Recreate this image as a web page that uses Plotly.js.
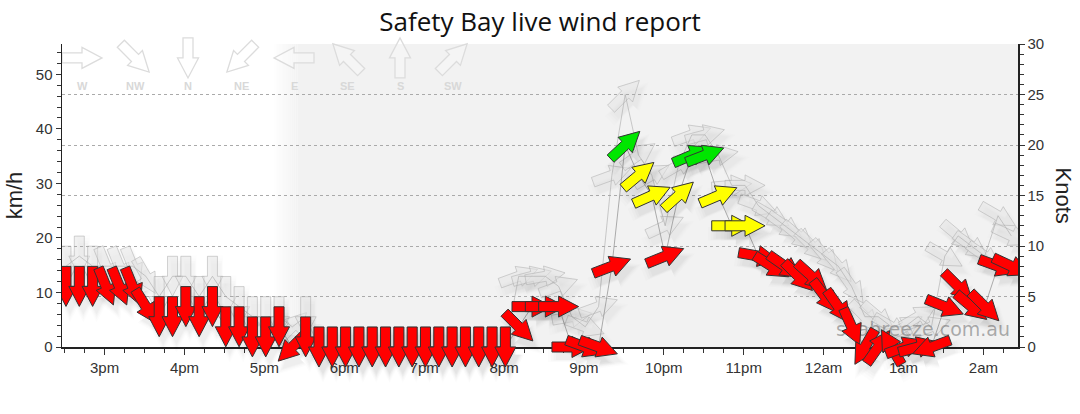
<!DOCTYPE html>
<html>
<head>
<meta charset="utf-8">
<script src="https://cdn.plot.ly/plotly-3.0.1.min.js"></script>
<style>html,body{margin:0;padding:0;background:#fff;}#chart{width:1080px;height:414px;}</style>
</head>
<body>
<div id="chart"></div>
<script>
// ---------------- DATA ----------------
const times = [
  '2024-06-15 14:31','2024-06-15 14:41','2024-06-15 14:51','2024-06-15 15:01','2024-06-15 15:11','2024-06-15 15:21',
  '2024-06-15 15:31','2024-06-15 15:41','2024-06-15 15:51','2024-06-15 16:01','2024-06-15 16:11','2024-06-15 16:21',
  '2024-06-15 16:31','2024-06-15 16:41','2024-06-15 16:51','2024-06-15 17:01','2024-06-15 17:11','2024-06-15 17:21',
  '2024-06-15 17:31','2024-06-15 17:41','2024-06-15 17:51','2024-06-15 18:01','2024-06-15 18:11','2024-06-15 18:21',
  '2024-06-15 18:31','2024-06-15 18:41','2024-06-15 18:51','2024-06-15 19:01','2024-06-15 19:11','2024-06-15 19:21',
  '2024-06-15 19:31','2024-06-15 19:41','2024-06-15 19:51','2024-06-15 20:01','2024-06-15 20:11','2024-06-15 20:21',
  '2024-06-15 20:31','2024-06-15 20:41','2024-06-15 20:51','2024-06-15 21:01','2024-06-15 21:11','2024-06-15 21:21',
  '2024-06-15 21:31','2024-06-15 21:41','2024-06-15 21:51','2024-06-15 22:01','2024-06-15 22:11','2024-06-15 22:21',
  '2024-06-15 22:31','2024-06-15 22:41','2024-06-15 22:51','2024-06-15 23:01','2024-06-15 23:11','2024-06-15 23:21',
  '2024-06-15 23:31','2024-06-15 23:41','2024-06-15 23:51','2024-06-16 00:01','2024-06-16 00:11','2024-06-16 00:21',
  '2024-06-16 00:31','2024-06-16 00:41','2024-06-16 00:51','2024-06-16 01:01','2024-06-16 01:11','2024-06-16 01:21',
  '2024-06-16 01:31','2024-06-16 01:41','2024-06-16 01:51','2024-06-16 02:01','2024-06-16 02:11','2024-06-16 02:21'
];
// wind direction (degrees, direction the wind comes FROM)
const windDir = [
  0,0,0,338,338,338,
  328,0,0,0,0,0,
  0,0,0,0,0,45,
  0,0,0,0,0,0,
  0,0,0,0,0,0,
  0,0,0,0,315,270,
  270,270,270,290,290,249,
  227,230,246,248,228,247,
  249,247,270,270,280,302,
  305,315,312,323,325,336,
  30,215,150,250,255,70,
  292,315,310,315,290,295
];
// average wind speed (knots)
const speedKn = [
  6,6,6,6,6,6,
  4,3,3,4,3,4,
  2,2,1,1,2,0,
  1,0,0,0,0,0,
  0,0,0,0,0,0,
  0,0,0,0,2,4,
  4,4,0,0,0,8,
  20,17,15,9,15,19,
  19,15,12,12,9,8,
  8,7,7,5,4,2,
  0,0,0,0,0,0,
  4,6,4,4,8,8
];
// gust speed (knots)
const gustKn = [
  8,9,8,8,8,8,
  7,5,7,7,5,7,
  5,4,3,3,3,2,
  3,0,0,0,0,0,
  0,0,0,0,0,0,
  0,0,0,0,7,7,
  7,6,3,2,4,17,
  25,19,17,12,18,21,
  21,19,16,16,14,13,
  12,11,10,9,8,6,
  3,3,2,2,3,2,
  9,11,10,9,13,11
];
// gust direction (degrees from)
const gustDir = [
  0,0,0,338,338,338,
  330,0,0,0,0,0,
  0,0,0,0,0,225,
  0,0,0,0,0,0,
  0,0,0,0,0,0,
  0,0,0,0,250,255,
  260,250,260,290,250,250,
  225,235,240,245,240,250,
  255,260,265,270,290,300,
  305,310,315,320,320,325,
  315,310,300,240,240,250,
  300,310,305,305,300,295
];
const hourTicks = ['2024-06-15 15:00','2024-06-15 16:00','2024-06-15 17:00','2024-06-15 18:00','2024-06-15 19:00',
  '2024-06-15 20:00','2024-06-15 21:00','2024-06-15 22:00','2024-06-15 23:00','2024-06-16 00:00','2024-06-16 01:00','2024-06-16 02:00'];
const hourLabels = ['3pm','4pm','5pm','6pm','7pm','8pm','9pm','10pm','11pm','12am','1am','2am'];
const compassLabels = ['W','NW','N','NE','E','SE','S','SW'];
const compassDeg = [270,315,0,45,90,135,180,225];
const nightStart = '2024-06-15 17:07';
const nightFull = '2024-06-15 17:25';
const KMH_PER_KN = 1.852;
const KN_MAX = 30;

// ---------------- DRAWING HELPERS ----------------
const ARROW = [[-20,-5],[0,-5],[0,-10.5],[20,0],[0,10.5],[0,5],[-20,5]];
function arrowPath(fromDeg, dx, dy, s) {
  s = s || 1;
  const bearing = (fromDeg + 180) % 360;
  const th = (90 - bearing) * Math.PI / 180;
  const c = Math.cos(th), sn = Math.sin(th);
  return ARROW.map((p, i) => {
    const x = p[0]*s, y = p[1]*s;
    const rx = x*c - y*sn + dx, ry = x*sn + y*c + dy;
    return (i ? 'L' : 'M') + rx.toFixed(2) + ',' + ry.toFixed(2);
  }).join('') + 'Z';
}
function speedColor(kn) {
  if (kn >= 19) return '#00e600';
  if (kn >= 11) return '#ffff00';
  return '#ff0000';
}
function arrowShape(t, kn, deg, fill, lineColor, lw, dx, dy, s, layer) {
  return {
    type: 'path', xref: 'x', yref: 'paper', xsizemode: 'pixel', ysizemode: 'pixel',
    xanchor: t, yanchor: kn / KN_MAX, path: arrowPath(deg, dx || 0, dy || 0, s),
    fillcolor: fill, line: {color: lineColor, width: lw}, layer: layer || 'above'
  };
}

const shapes = [];
// night shading with soft edge
const t0 = new Date(nightStart.replace(' ', 'T')).getTime();
const t1 = new Date(nightFull.replace(' ', 'T')).getTime();
const fmt = ms => { const d = new Date(ms); const p = n => String(n).padStart(2,'0');
  return d.getFullYear()+'-'+p(d.getMonth()+1)+'-'+p(d.getDate())+' '+p(d.getHours())+':'+p(d.getMinutes())+':'+p(d.getSeconds()); };
const NSTRIP = 12;
for (let k = 0; k < NSTRIP; k++) {
  shapes.push({type:'rect', xref:'x', yref:'paper', x0: fmt(t0 + (t1-t0)*k/NSTRIP), x1: fmt(t0 + (t1-t0)*(k+1)/NSTRIP),
    y0: 0, y1: 1, fillcolor: 'rgba(242,242,242,' + ((k+0.5)/NSTRIP).toFixed(3) + ')', line: {width: 0}, layer: 'below'});
}
shapes.push({type:'rect', xref:'x', yref:'paper', x0: nightFull, x1: '2024-06-16 03:00', y0: 0, y1: 1,
  fillcolor: '#f2f2f2', line: {width: 0}, layer: 'below'});

// compass legend arrows
compassDeg.forEach((d, i) => {
  shapes.push({type:'path', xref:'paper', yref:'paper', xsizemode:'pixel', ysizemode:'pixel',
    xanchor: (20 + 53*i) / 956, yanchor: 0.954, path: arrowPath(d, 0, 0, 1.0),
    fillcolor: 'rgba(255,255,255,0.25)', line: {color: '#dcdcdc', width: 1.3}, layer: 'below'});
});

// soft shadow: several growing, faint copies offset down-right
const BLUR = [[1.00, 0.020], [1.12, 0.018], [1.25, 0.015], [1.40, 0.012]];
times.forEach((t, i) => {
  BLUR.forEach(b => shapes.push(arrowShape(t, gustKn[i], gustDir[i], 'rgba(0,0,0,' + (b[1]*0.6).toFixed(3) + ')', 'rgba(0,0,0,0)', 0, 4, -7, b[0], 'between')));
});
times.forEach((t, i) => {
  shapes.push(arrowShape(t, gustKn[i], gustDir[i], 'rgba(228,228,228,0.5)', 'rgba(170,170,170,0.5)', 1, 0, 0, 1, 'between'));
});
times.forEach((t, i) => {
  BLUR.forEach(b => shapes.push(arrowShape(t, speedKn[i], windDir[i], 'rgba(0,0,0,' + b[1].toFixed(3) + ')', 'rgba(0,0,0,0)', 0, 4, -8, b[0])));
});
times.forEach((t, i) => {
  shapes.push(arrowShape(t, speedKn[i], windDir[i], speedColor(speedKn[i]), '#333333', 1));
});

// ---------------- TRACES ----------------
const speedKmh = speedKn.map(v => v * KMH_PER_KN);
const traces = [
  {x: times, y: gustKn, yaxis: 'y2', type: 'scatter', mode: 'lines',
   line: {color: 'rgba(170,170,170,0.6)', width: 1}, hoverinfo: 'skip', showlegend: false},
  {x: times, y: speedKmh, yaxis: 'y', type: 'scatter', mode: 'lines',
   line: {color: 'rgba(140,140,140,0.7)', width: 1}, hoverinfo: 'skip', showlegend: false},
  {x: ['2024-06-16 02:20'], y: [1.6], yaxis: 'y2', type: 'scatter', mode: 'text', text: ['seabreeze.com.au'],
   textposition: 'middle left', textfont: {family: 'DejaVu Sans', size: 19, color: 'rgba(120,120,120,0.6)'},
   hoverinfo: 'skip', showlegend: false, cliponaxis: false}
];

const annotations = compassLabels.map((lab, i) => ({
  xref: 'paper', yref: 'paper', x: (20 + 53*i) / 956, y: 0.861, text: lab, showarrow: false,
  font: {family: 'Liberation Sans', size: 11, color: '#d8d8d8', weight: 'bold'}, xanchor: 'center', yanchor: 'middle'
}));
annotations.push({xref: 'paper', yref: 'paper', x: 1, xshift: 45, y: 0.5, text: 'Knots', textangle: 90,
  showarrow: false, font: {family: 'Liberation Sans', size: 22, color: '#222'}, xanchor: 'center', yanchor: 'middle'});

const tickFont = {family: 'Liberation Sans', size: 15, color: '#333'};
const layout = {
  width: 1080, height: 414,
  margin: {l: 62, r: 62, t: 44, b: 67},
  paper_bgcolor: '#ffffff', plot_bgcolor: 'rgba(0,0,0,0)',
  showlegend: false,
  title: {text: 'Safety Bay live wind report', x: 0.5, xref: 'container', xanchor: 'center',
    y: 1 - 22/414, yref: 'container', yanchor: 'middle',
    font: {family: 'Open Sans', size: 26, color: '#111'}},
  xaxis: {type: 'date', range: ['2024-06-15 14:28', '2024-06-16 02:26'],
    tickvals: hourTicks, ticktext: hourLabels, tickfont: tickFont,
    ticks: 'outside', ticklen: 6, tickcolor: '#333', showgrid: false, zeroline: false,
    showline: true, linecolor: '#222', linewidth: 1.5,
    minor: {dtick: 15*60*1000, ticks: 'outside', ticklen: 4, tickcolor: '#333', showgrid: false}},
  yaxis: {range: [0, KN_MAX * KMH_PER_KN], tickvals: [0,10,20,30,40,50], tickfont: tickFont,
    ticks: 'outside', ticklen: 5, tickcolor: '#333', showgrid: false, zeroline: false,
    showline: true, linecolor: '#222', linewidth: 1.5,
    minor: {dtick: 2, ticks: 'outside', ticklen: 4, tickcolor: '#333', showgrid: false},
    title: {text: 'km/h', standoff: 7, font: {family: 'Liberation Sans', size: 22, color: '#222'}}},
  yaxis2: {range: [0, KN_MAX], overlaying: 'y', side: 'right', tickvals: [0,5,10,15,20,25,30], tickfont: tickFont,
    ticks: 'outside', ticklen: 5, tickcolor: '#333', zeroline: false,
    showgrid: true, gridcolor: '#aaaaaa', griddash: 'dot', gridwidth: 1,
    showline: true, linecolor: '#222', linewidth: 1.5,
    minor: {dtick: 1, ticks: 'outside', ticklen: 4, tickcolor: '#333', showgrid: false}},
  shapes: shapes,
  annotations: annotations
};

Plotly.newPlot('chart', traces, layout, {displayModeBar: false, staticPlot: true});
</script>
</body>
</html>
